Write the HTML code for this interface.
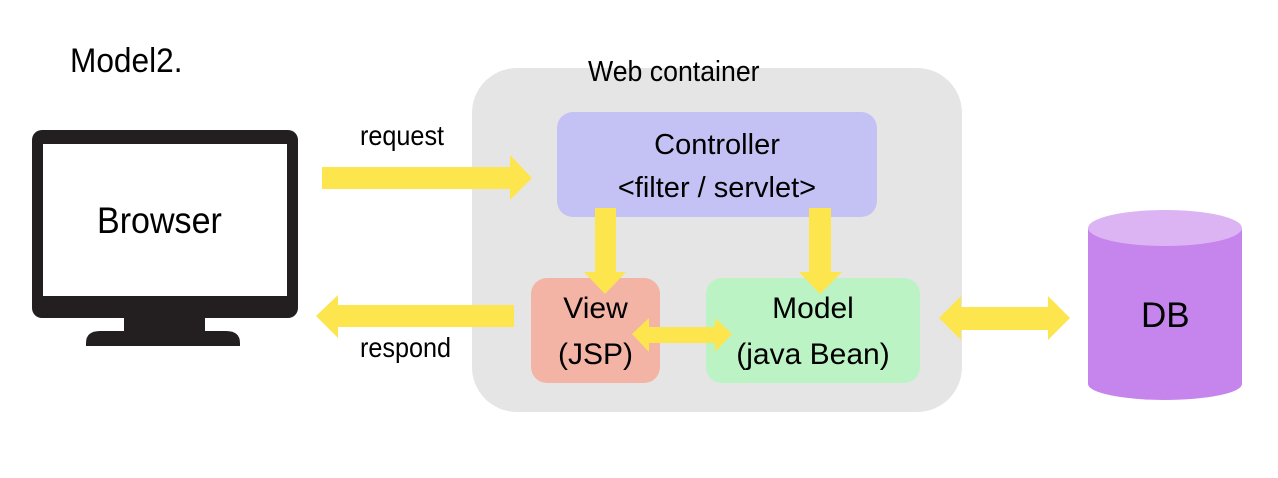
<!DOCTYPE html>
<html><head><style>
body{margin:0;width:1278px;height:478px;background:#fff;position:relative;overflow:hidden;font-family:"Liberation Sans","DejaVu Sans",sans-serif;}
.t{position:absolute;color:#000;white-space:nowrap;}
</style></head><body>
<svg width="1278" height="478" style="position:absolute;left:0;top:0">
<rect x="472" y="68" width="490" height="344" rx="45" fill="#e5e5e5"/>
<rect x="557" y="112" width="320" height="105" rx="16" fill="#c4c2f4"/>
<rect x="531" y="278" width="129" height="105" rx="16" fill="#f3b4a6"/>
<rect x="706" y="278" width="214" height="105" rx="16" fill="#bbf3c4"/>
<rect x="32" y="130" width="266" height="188" rx="10" fill="#231f20"/>
<rect x="43" y="144" width="244" height="152" fill="#fff"/>
<rect x="124" y="316" width="81" height="18" fill="#231f20"/>
<path d="M86 346 L86 343 Q86 331 100 331 L226 331 Q240 331 240 343 L240 346 Z" fill="#231f20"/>
<g fill="#fde54d">
<polygon points="322,167 510,167 510,155 532,178 510,200 510,189 322,189"/>
<polygon points="514,305 338,305 338,295 316,316 338,338 338,327 514,327"/>
<polygon points="595,208 616,208 616,272 626,272 605,294 584,272 595,272"/>
<polygon points="809,208 831,208 831,272 842,272 820,294 799,272 809,272"/>
<polygon points="632,334 649,318 649,327 715,327 715,318 732,334 715,352 715,343 649,343 649,352"/>
<polygon points="939,318 961,296 961,307 1048,307 1048,296 1070,318 1048,340 1048,330 961,330 961,340"/>
</g>
<path d="M1088 228 L1088 384 A77 16 0 0 0 1242 384 L1242 228 Z" fill="#c585ec"/>
<ellipse cx="1165" cy="228" rx="77" ry="18" fill="#dcb4f4"/>
</svg>
<div class="t" style="left:70px;top:42px;font-size:34px;transform:scaleX(0.93);transform-origin:left">Model2.</div>
<div class="t" style="left:588px;top:56px;font-size:29px;transform:scaleX(0.92);transform-origin:left">Web container</div>
<div class="t" style="left:360px;top:120px;font-size:28px;transform:scaleX(0.9);transform-origin:left">request</div>
<div class="t" style="left:360px;top:332px;font-size:28px;transform:scaleX(0.9);transform-origin:left">respond</div>
<div class="t" style="left:97px;top:200px;font-size:37px;transform:scaleX(0.92);transform-origin:left">Browser</div>
<div class="t" style="left:557px;width:320px;text-align:center;top:124px;font-size:29px;line-height:43px">Controller<br>&lt;filter / servlet&gt;</div>
<div class="t" style="left:531px;width:129px;text-align:center;top:286px;font-size:30px;line-height:46px">View<br>(JSP)</div>
<div class="t" style="left:706px;width:214px;text-align:center;top:286px;font-size:30px;line-height:46px">Model<br>(java Bean)</div>
<div class="t" style="left:1141px;top:296px;font-size:35px">DB</div>
</body></html>
